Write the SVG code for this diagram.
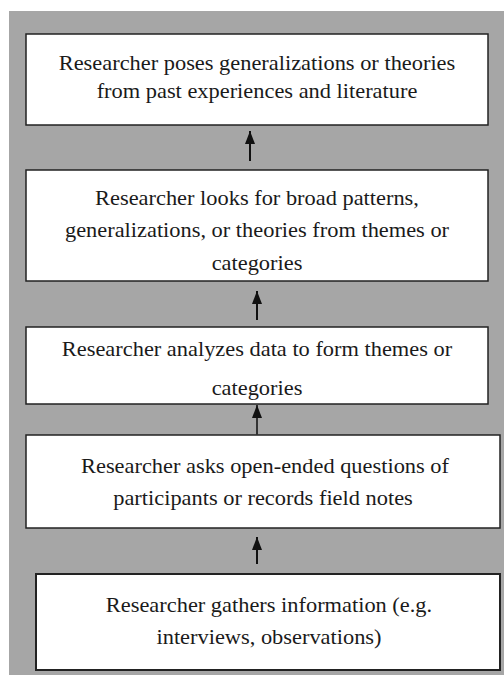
<svg xmlns="http://www.w3.org/2000/svg" width="504" height="675" viewBox="0 0 504 675">
<style>
.box{fill:#fff;stroke:#222;stroke-width:1.5}
.t{font-family:"Liberation Serif","Times New Roman",serif;font-size:20px;fill:#1a1a1a;text-anchor:middle}
.c{stroke:#111;stroke-width:2;fill:none}
</style>
<defs>
<marker id="ah" viewBox="0 0 13 10" refX="13" refY="5" markerWidth="13" markerHeight="10" markerUnits="userSpaceOnUse" orient="auto">
<path d="M0,0 L13,5 L0,10 z" fill="#111"/>
</marker>
</defs>
<rect x="0" y="0" width="504" height="675" fill="#fff"/>
<rect x="9" y="11" width="495" height="664" fill="#a6a6a6"/>
<g id="n1">
<rect class="box" x="26" y="34" width="462" height="91"/>
<text class="t" transform="translate(257,70) scale(1.12,1)">Researcher poses generalizations or theories</text>
<text class="t" transform="translate(257,98) scale(1.12,1)">from past experiences and literature</text>
</g>
<g id="n2">
<rect class="box" x="26" y="170" width="462" height="111"/>
<text class="t" transform="translate(257,205) scale(1.12,1)">Researcher looks for broad patterns,</text>
<text class="t" transform="translate(257,237) scale(1.12,1)">generalizations, or theories from themes or</text>
<text class="t" transform="translate(257,270) scale(1.12,1)">categories</text>
</g>
<g id="n3">
<rect class="box" x="26" y="327" width="462" height="77"/>
<text class="t" transform="translate(257,356) scale(1.12,1)">Researcher analyzes data to form themes or</text>
<text class="t" transform="translate(257,395) scale(1.12,1)">categories</text>
</g>
<g id="n4">
<rect class="box" x="26" y="435" width="474" height="93"/>
<text class="t" transform="translate(265,473) scale(1.12,1)">Researcher asks open-ended questions of</text>
<text class="t" transform="translate(263,505) scale(1.12,1)">participants or records field notes</text>
</g>
<g id="n5">
<rect class="box" x="36" y="574" width="464" height="96" style="stroke-width:2"/>
<text class="t" transform="translate(269,612) scale(1.12,1)">Researcher gathers information (e.g.</text>
<text class="t" transform="translate(269,644) scale(1.12,1)">interviews, observations)</text>
</g>
<g id="connectors">
<path class="c" d="M250,161 L250,131" marker-end="url(#ah)"/>
<path class="c" d="M257,320 L257,291" marker-end="url(#ah)"/>
<path class="c" d="M257,435 L257,405" marker-end="url(#ah)" style="stroke:#333"/>
<path class="c" d="M257,564 L257,537" marker-end="url(#ah)"/>
</g>
</svg>
